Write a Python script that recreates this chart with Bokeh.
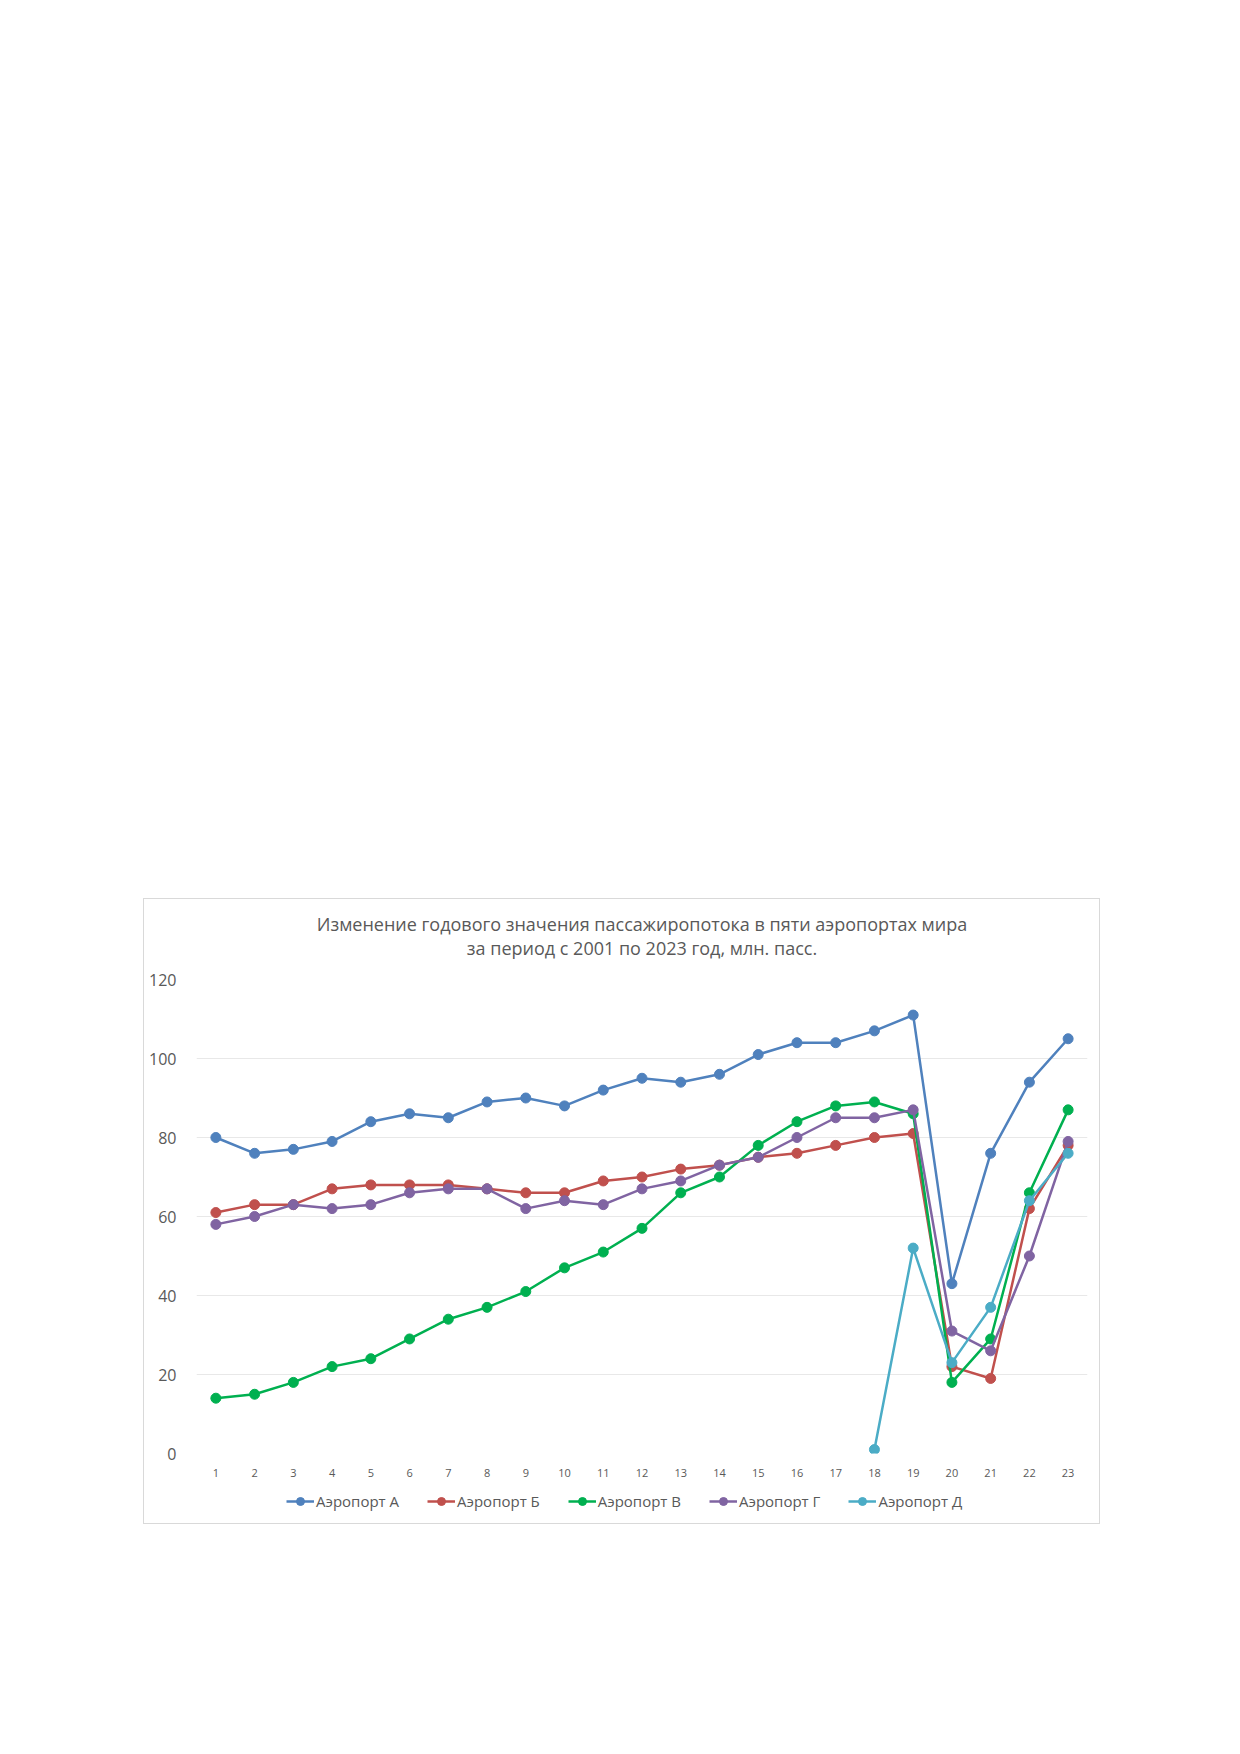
import math
from bokeh.plotting import figure
from bokeh.models import (Range1d, FixedTicker, Legend, LegendItem, Title, Spacer,
                          ColumnDataSource)
from bokeh.layouts import column, row
from bokeh.embed import file_html
from bokeh.resources import INLINE

years = list(range(1, 24))
tick_labels = [str(i) for i in years]

airport_a = [80, 76, 77, 79, 84, 86, 85, 89, 90, 88, 92, 95, 94, 96, 101, 104, 104, 107, 111, 43, 76, 94, 105]
airport_b = [61, 63, 63, 67, 68, 68, 68, 67, 66, 66, 69, 70, 72, 73, 75, 76, 78, 80, 81, 22, 19, 62, 78]
airport_v = [14, 15, 18, 22, 24, 29, 34, 37, 41, 47, 51, 57, 66, 70, 78, 84, 88, 89, 86, 18, 29, 66, 87]
airport_g = [58, 60, 63, 62, 63, 66, 67, 67, 62, 64, 63, 67, 69, 73, 75, 80, 85, 85, 87, 31, 26, 50, 79]
airport_d = [None] * 17 + [1, 52, 23, 37, 64, 76]

names = ["Аэропорт А", "Аэропорт Б", "Аэропорт В", "Аэропорт Г", "Аэропорт Д"]
colors = ["#4F81BD", "#C0504D", "#00B050", "#8064A2", "#4BACC6"]
series = [airport_a, airport_b, airport_v, airport_g, airport_d]

title_line1 = "Изменение годового значения пассажиропотока в пяти аэропортах мира"
title_line2 = "за период с 2001 по 2023 год, млн. пасс."

FONT = "Open Sans"
TXT = "#595959"
BORDER = "1px solid #d9d9d9"
W = 957
LINE_W = 2.5
MARK = 10
NAN = float("nan")

# ---- main chart ----
p = figure(width=W, height=580, output_backend="svg", toolbar_location=None,
           x_range=Range1d(0.5, 23.5), y_range=Range1d(0, 120),
           min_border_left=52, min_border_right=14, min_border_top=80,
           min_border_bottom=25, title=None)
p.outline_line_color = None
p.background_fill_color = "white"
p.border_fill_color = "white"
p.styles = {"border-top": BORDER, "border-left": BORDER, "border-right": BORDER,
            "box-sizing": "border-box"}

t2 = Title(text=title_line2, align="center", text_font=FONT, text_font_size="18px",
           text_color=TXT, text_font_style="normal", standoff=40)
t1 = Title(text=title_line1, align="center", text_font=FONT, text_font_size="18px",
           text_color=TXT, text_font_style="normal", standoff=-45)
p.add_layout(t2, "above")
p.add_layout(t1, "above")

p.xaxis.ticker = FixedTicker(ticks=years)
p.xaxis.major_label_overrides = {y: l for y, l in zip(years, tick_labels)}
p.yaxis.ticker = FixedTicker(ticks=[0, 20, 40, 60, 80, 100, 120])
for ax in (p.xaxis, p.yaxis):
    ax.axis_line_color = None
    ax.major_tick_line_color = None
    ax.minor_tick_line_color = None
    ax.major_label_text_color = TXT
    ax.major_label_text_font = FONT
p.xaxis.major_label_text_font_size = "11px"
p.xaxis.major_label_standoff = 9
p.yaxis.major_label_text_font_size = "16px"
p.yaxis.major_label_standoff = 14
p.xgrid.grid_line_color = None
p.ygrid.grid_line_color = "#e8e8e8"
p.ygrid.grid_line_width = 1

for name, col, vals in zip(names, colors, series):
    ys = [NAN if v is None else v for v in vals]
    src = ColumnDataSource(dict(x=years, y=ys))
    p.line("x", "y", source=src, line_color=col, line_width=LINE_W)
    p.scatter("x", "y", source=src, size=MARK, fill_color=col, line_color=col)

# ---- legend strip (bottom part of the same chart box) ----
lf = figure(width=W, height=46, output_backend="svg", toolbar_location=None,
            x_range=Range1d(0, 1), y_range=Range1d(0, 1),
            min_border=0, title=None)
lf.axis.visible = False
lf.grid.visible = False
lf.outline_line_color = None
lf.border_fill_color = "white"
lf.styles = {"border-bottom": BORDER, "border-left": BORDER, "border-right": BORDER,
             "box-sizing": "border-box"}

items = []
for name, col in zip(names, colors):
    # legend proxies: a single NaN point, nothing is drawn in the strip itself
    src = ColumnDataSource(dict(x=[NAN], y=[NAN]))
    r1 = lf.line("x", "y", source=src, line_color=col, line_width=LINE_W)
    r2 = lf.scatter("x", "y", source=src, size=MARK, fill_color=col, line_color=col)
    items.append(LegendItem(label=name, renderers=[r1, r2]))

legend = Legend(items=items, orientation="horizontal", location=(90, 13),
                label_text_font=FONT, label_text_font_size="15px", label_text_color=TXT,
                border_line_color=None, background_fill_alpha=0, glyph_width=28,
                spacing=28, padding=2, margin=0, label_standoff=2)
lf.add_layout(legend)

layout = column(Spacer(height=898, width=10),
                row(Spacer(width=143, height=10), column(p, lf, spacing=0)))

open("out.html", "w").write(file_html(layout, INLINE))
